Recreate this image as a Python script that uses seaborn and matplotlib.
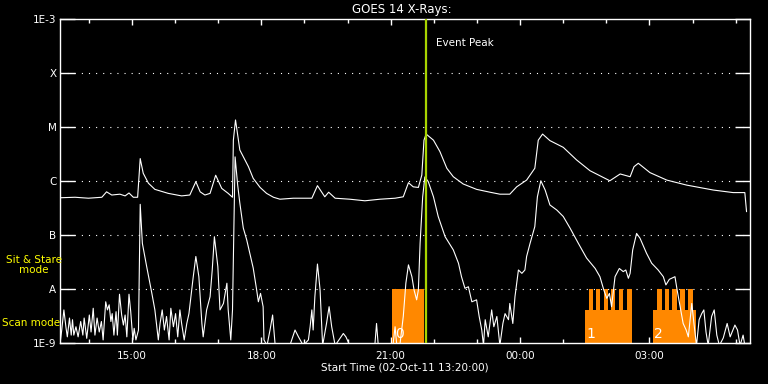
import matplotlib
matplotlib.use("Agg")
import matplotlib.pyplot as plt
import seaborn as sns
import pandas as pd
from matplotlib.ticker import FixedLocator, NullLocator

# ---- data (time = hours after 02-Oct-11 13:20:00, flux in W/m^2) ----
long_t = [0.02, 0.35, 0.66, 0.97, 1.08, 1.20, 1.39, 1.51, 1.60, 1.70,
          1.80, 1.86, 1.93, 2.05, 2.20, 2.51, 2.82, 3.01, 3.15, 3.25,
          3.36, 3.48, 3.61, 3.75, 3.90, 4.00, 4.02, 4.07, 4.17, 4.37,
          4.48, 4.64, 4.79, 4.95, 5.10, 5.41, 5.84, 5.97, 6.14, 6.23, 6.38, 6.72,
          7.07, 7.42, 7.77, 7.96, 8.08, 8.19, 8.31, 8.39, 8.44, 8.49,
          8.66, 8.81, 8.97, 9.12, 9.35, 9.66, 9.97, 10.20, 10.43, 10.59,
          10.82, 11.01, 11.09, 11.19, 11.36, 11.67, 11.98, 12.29, 12.75, 12.99,
          13.22, 13.31, 13.41, 13.68, 14.07, 14.53, 15.15, 15.61, 15.88, 15.92]
long_flux = [4.9e-7, 5.0e-7, 4.8e-7, 5.0e-7, 6.3e-7, 5.5e-7, 5.7e-7, 5.3e-7, 6.0e-7, 5.0e-7,
             5.0e-7, 2.6e-6, 1.39e-6, 9.1e-7, 7.0e-7, 5.9e-7, 5.3e-7, 5.5e-7, 9.7e-7, 6.3e-7,
             5.5e-7, 5.9e-7, 1.28e-6, 7.3e-7, 5.9e-7, 5.0e-7, 5.7e-6, 1.35e-5, 3.75e-6, 1.84e-6,
             1.12e-6, 7.6e-7, 5.9e-7, 5.0e-7, 4.6e-7, 4.8e-7, 4.8e-7, 8.2e-7, 5.1e-7, 6.2e-7, 4.8e-7, 4.6e-7,
             4.3e-7, 4.6e-7, 4.8e-7, 5.1e-7, 9.3e-7, 7.8e-7, 7.6e-7, 1.29e-6, 5.7e-6, 7.4e-6,
             5.7e-6, 3.5e-6, 1.72e-6, 1.20e-6, 8.8e-7, 7.0e-7, 6.2e-7, 5.7e-7, 5.7e-7, 7.8e-7,
             1.04e-6, 1.72e-6, 5.7e-6, 7.4e-6, 5.6e-6, 4.2e-6, 2.45e-6, 1.55e-6, 1.01e-6, 1.35e-6,
             1.20e-6, 1.84e-6, 2.13e-6, 1.43e-6, 1.04e-6, 8.4e-7, 6.8e-7, 6.1e-7, 6.1e-7, 2.7e-7]

short_t = [0.01, 0.04, 0.09, 0.14, 0.17, 0.22, 0.26, 0.29, 0.32, 0.37,
           0.42, 0.48, 0.53, 0.56, 0.62, 0.68, 0.72, 0.77, 0.81, 0.86,
           0.91, 0.96, 1.00, 1.06, 1.10, 1.14, 1.18, 1.21, 1.25, 1.30,
           1.33, 1.38, 1.43, 1.47, 1.51, 1.55, 1.60, 1.64, 1.69, 1.72,
           1.76, 1.82, 1.86, 1.91, 2.01, 2.13,
           2.20, 2.28, 2.32, 2.37, 2.42, 2.47, 2.53, 2.57, 2.63, 2.68,
           2.73, 2.78, 2.82, 2.88, 2.94, 2.99,
           3.09, 3.15, 3.22, 3.29, 3.32, 3.40, 3.48,
           3.53, 3.58, 3.66, 3.71, 3.79, 3.87, 3.90, 3.96, 4.00, 4.06,
           4.12, 4.17, 4.25, 4.33, 4.41, 4.48, 4.56, 4.60, 4.65, 4.71,
           4.73, 4.80, 4.87, 4.93, 4.99, 5.22, 5.33, 5.45, 5.53, 5.64,
           5.76, 5.80, 5.84, 5.87, 5.91, 5.97, 6.03, 6.09, 6.18, 6.24,
           6.30, 6.38, 6.57, 6.63, 6.72, 7.30, 7.34, 7.38, 7.72, 7.77,
           7.81, 7.88, 7.96, 8.02, 8.08, 8.16, 8.21, 8.27, 8.31, 8.35,
           8.41, 8.46, 8.54, 8.66, 8.77, 8.93, 9.12, 9.24, 9.31, 9.39,
           9.47, 9.55, 9.66, 9.72, 9.78, 9.82, 9.86, 9.93, 10.01, 10.06,
           10.13, 10.20, 10.27, 10.32, 10.40, 10.43, 10.50, 10.55, 10.63, 10.71,
           10.78, 10.82, 10.90, 11.01, 11.07, 11.15, 11.25, 11.36, 11.52, 11.67,
           11.83, 12.02, 12.21, 12.41, 12.52, 12.61, 12.68, 12.74, 12.79, 12.87,
           12.97, 13.06, 13.12, 13.18, 13.22, 13.28, 13.37, 13.45, 13.60, 13.72,
           13.87, 13.99, 14.05, 14.13, 14.26, 14.31, 14.38, 14.45, 14.52, 14.57,
           14.65, 14.70, 14.76, 14.82, 14.88, 14.93, 14.98, 15.03, 15.11, 15.17,
           15.23, 15.29, 15.38, 15.47, 15.54, 15.65, 15.71, 15.77, 15.84, 15.88]
short_flux = [1.1e-9, 1.74e-9, 4.1e-9, 1.9e-9, 1.3e-9, 2.9e-9, 1.4e-9, 2.7e-9, 1.4e-9, 2.0e-9,
              1.3e-9, 2.5e-9, 1.4e-9, 2.9e-9, 1.22e-9, 3.3e-9, 1.6e-9, 4.4e-9, 1.4e-9, 2.9e-9,
              1.6e-9, 2.5e-9, 1.14e-9, 5.8e-9, 4.1e-9, 5.1e-9, 2.5e-9, 3.5e-9, 1.4e-9, 3.8e-9,
              1.4e-9, 8.0e-9, 3.3e-9, 2.15e-9, 3.3e-9, 1.3e-9, 8.0e-9, 3.8e-9, 1.14e-9, 1.87e-9,
              1.14e-9, 1.74e-9, 3.7e-7, 7.0e-8, 2.6e-8, 8.3e-9,
              4.1e-9, 1.14e-9, 2.3e-9, 4.1e-9, 1.74e-9, 3.1e-9, 1.14e-9, 4.4e-9, 2.0e-9, 3.5e-9,
              1.3e-9, 4.1e-9, 2.3e-9, 1.14e-9, 2.3e-9, 3.5e-9,
              1.69e-8, 4.0e-8, 1.69e-8, 2.3e-9, 1.3e-9, 4.1e-9, 7.2e-9,
              2.25e-8, 9.3e-8, 2.6e-8, 4.1e-9, 5.4e-9, 1.28e-8, 4.1e-9, 1.14e-9, 4.1e-9, 2.8e-6,
              8.4e-7, 3.9e-7, 1.35e-7, 8.1e-8, 4.3e-8, 2.45e-8, 9.6e-9, 5.8e-9, 8.3e-9, 4.7e-9,
              1.14e-9, 9e-10, 1.74e-9, 3.3e-9, 9e-10, 9e-10, 9e-10, 1.74e-9, 1.3e-9, 9e-10,
              1.14e-9, 2.0e-9, 4.1e-9, 1.74e-9, 7.2e-9, 2.9e-8, 9.8e-9, 9e-10, 2.3e-9, 4.7e-9,
              2.0e-9, 9e-10, 1.5e-9, 1.3e-9, 9e-10, 9e-10, 2.3e-9, 9e-10, 9e-10, 2.0e-9,
              9e-10, 9e-10, 3.1e-9, 1.28e-8, 2.8e-8, 1.69e-8, 9.6e-9, 6.3e-9, 9.6e-9, 7.0e-8,
              5.1e-7, 1.19e-6, 9.7e-7, 5.1e-7, 2.2e-7, 9.3e-8, 5.3e-8, 3.0e-8, 1.69e-8, 1.03e-8,
              1.1e-8, 5.8e-9, 6.3e-9, 3.1e-9, 1.74e-9, 9e-10, 2.7e-9, 1.3e-9, 4.1e-9, 2.0e-9,
              3.1e-9, 9e-10, 2.3e-9, 3.5e-9, 2.7e-9, 5.4e-9, 2.3e-9, 7.2e-9, 2.25e-8, 1.95e-8,
              2.25e-8, 4.0e-8, 7.0e-8, 1.43e-7, 5.1e-7, 1.01e-6, 6.8e-7, 3.6e-7, 2.9e-7, 2.2e-7,
              1.33e-7, 7.0e-8, 3.75e-8, 2.4e-8, 1.69e-8, 9.6e-9, 6.7e-9, 8.3e-9, 4.7e-9, 1.69e-8,
              2.4e-8, 2.1e-8, 2.25e-8, 1.58e-8, 1.95e-8, 5.3e-8, 1.07e-7, 8.7e-8, 4.6e-8, 3.0e-8,
              2.25e-8, 1.69e-8, 1.19e-8, 1.51e-8, 1.69e-8, 9.6e-9, 4.7e-9, 2.3e-9, 1.74e-9, 1.3e-9,
              5.4e-9, 2.3e-9, 9e-10, 2.7e-9, 3.5e-9, 4.1e-9, 1.6e-9, 9e-10, 3.1e-9, 4.1e-9,
              1.4e-9, 9e-10, 1.24e-9, 2.3e-9, 1.3e-9, 2.15e-9, 1.74e-9, 9e-10, 1.4e-9, 9e-10]

event_peak_t = 8.48

# instrument mode intervals (hours)
sit_start = [7.71, 12.27, 12.43, 12.61, 12.78, 12.96, 13.14, 13.85, 14.03, 14.19, 14.38, 14.56]
sit_end = [8.44, 12.35, 12.52, 12.70, 12.87, 13.05, 13.26, 13.95, 14.13, 14.30, 14.49, 14.67]
scan_start = [12.17, 13.75]
scan_end = [13.26, 14.74]
sit_level = 1e-8
scan_level = 4.1e-9
block_labels = ["0", "1", "2"]
block_label_t = [7.77, 12.21, 13.77]

y_ticks = [1e-9, 1e-8, 1e-7, 1e-6, 1e-5, 1e-4, 1e-3]
y_labels = ["1E-9", "A", "B", "C", "M", "X", "1E-3"]
x_major = [1 + 40 / 60, 4 + 40 / 60, 7 + 40 / 60, 10 + 40 / 60, 13 + 40 / 60]
x_labels = ["15:00", "18:00", "21:00", "00:00", "03:00"]
x_minor = [k + 40 / 60 for k in range(16)]

# ---- figure ----
sns.set_theme(style="dark")
plt.rcParams["font.family"] = ["DejaVu Sans"]
fig = plt.figure(figsize=(7.68, 3.84), dpi=100, facecolor="black")
ax = fig.add_axes([60 / 768, 41 / 384, 690 / 768, 324 / 384])
ax.set_facecolor("black")
ax.set_yscale("log")

orange = "#ff8800"
ax.bar(scan_start, [scan_level - 1e-9] * len(scan_start),
       width=[e - s for s, e in zip(scan_start, scan_end)], bottom=1e-9,
       align="edge", color=orange, linewidth=0, zorder=1)
ax.bar(sit_start, [sit_level - 1e-9] * len(sit_start),
       width=[e - s for s, e in zip(sit_start, sit_end)], bottom=1e-9,
       align="edge", color=orange, linewidth=0, zorder=1)

for lvl in y_ticks[1:-1]:
    ax.axhline(lvl, color="white", lw=0.8, ls=(0, (1, 5.4)), zorder=0.5)

df_long = pd.DataFrame({"t": long_t, "flux": long_flux})
df_short = pd.DataFrame({"t": short_t, "flux": short_flux})
sns.lineplot(data=df_long, x="t", y="flux", ax=ax, color="white", linewidth=0.8,
             estimator=None, sort=False, zorder=3)
sns.lineplot(data=df_short, x="t", y="flux", ax=ax, color="white", linewidth=0.8,
             estimator=None, sort=False, zorder=3)

ax.axvline(event_peak_t, color="#a8d400", lw=1.6, zorder=4)
ax.text(event_peak_t + 0.24, 3.6e-4, "Event Peak", color="white", fontsize=7.5,
        va="center", ha="left", zorder=5)

for lab, t in zip(block_labels, block_label_t):
    ax.text(t, 1.08e-9, lab, color="white", fontsize=10, ha="left", va="bottom", zorder=5)

ax.set_xlim(0, 16)
ax.set_ylim(1e-9, 1e-3)
ax.yaxis.set_major_locator(FixedLocator(y_ticks))
ax.yaxis.set_minor_locator(NullLocator())
ax.set_yticklabels(y_labels)
ax.xaxis.set_major_locator(FixedLocator(x_major))
ax.xaxis.set_minor_locator(FixedLocator(x_minor))
ax.set_xticklabels(x_labels)
ax.set_xlabel("")
ax.set_ylabel("")
ax.grid(False)

ax.tick_params(axis="y", which="major", direction="in", length=10.8, width=1,
               left=True, right=True, colors="white", labelsize=7.5, pad=2.5)
ax.tick_params(axis="x", which="major", direction="in", length=4.3, width=1,
               bottom=True, top=True, colors="white", labelsize=7.5, pad=6)
ax.tick_params(axis="x", which="minor", direction="in", length=3.2, width=1,
               bottom=True, top=True, colors="white")
for sp in ax.spines.values():
    sp.set_color("white")
    sp.set_linewidth(1)
    sp.set_visible(True)

fig.text(402 / 768, 1 - 10 / 384, "GOES 14 X-Rays:", color="white", fontsize=8.5,
         ha="center", va="center")
fig.text(405 / 768, 1 - 368 / 384, "Start Time (02-Oct-11 13:20:00)", color="white",
         fontsize=7.5, ha="center", va="center")
fig.text(34 / 768, 1 - 265 / 384, "Sit & Stare\nmode", color="#ffff00", fontsize=7.5,
         ha="center", va="center", multialignment="center", linespacing=1.1)
fig.text(2 / 768, 1 - 323 / 384, "Scan mode", color="#ffff00", fontsize=7.5,
         ha="left", va="center")

fig.savefig("out.png", dpi=100, facecolor="black")
